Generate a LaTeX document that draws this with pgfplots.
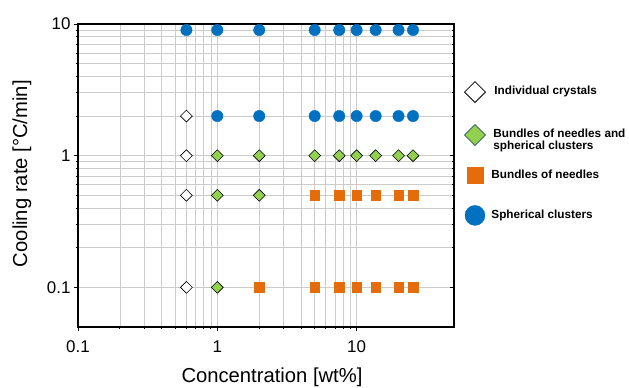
\documentclass[border=0pt]{standalone}
\usepackage{fontspec}
\setmainfont{Liberation Sans}
\usepackage{pgfplots}
\pgfplotsset{compat=1.18}
\definecolor{cblue}{HTML}{0070C0}
\definecolor{corange}{HTML}{E46C0A}
\definecolor{cgreen}{HTML}{92D050}
\definecolor{gridgray}{HTML}{CCCCCC}
\begin{document}
\begin{tikzpicture}
\path[use as bounding box] (-78bp,-61bp) rectangle (551bp,327bp);
\begin{axis}[
  at={(0,0)}, anchor=south west,
  scale only axis, width=376bp, height=303bp,
  xmode=log, ymode=log,
  xmin=0.1, xmax=50, ymin=0.05, ymax=10,
  xtick={0.1,1,10}, xticklabels={0.1,1,10},
  ytick={0.1,1,10}, yticklabels={0.1,1,10},
  xtick pos=bottom, ytick pos=left,
  tick align=outside,
  major tick length=4bp, minor tick length=2.5bp,
  every tick/.style={black, line width=0.9bp},
  axis line style={line width=1.2bp},
  grid=both,
  major grid style={gridgray, line width=0.8bp},
  minor grid style={gridgray, line width=0.8bp},
  /pgf/number format/assume math mode=true,
  tick label style={font=\fontsize{17}{17}\selectfont},
  xticklabel style={yshift=-6bp},
  label style={font=\fontsize{20.3}{20}\selectfont},
  xlabel={Concentration [wt\%]},
  ylabel={Cooling rate [°C/min]},
  xlabel style={at={(axis description cs:0.516,-0.165)}, anchor=center},
  ylabel style={at={(axis description cs:-0.149,0.506)}, anchor=center, rotate=0},
  legend style={draw=none, fill=none, at={(rel axis cs:1.028,0.810)}, anchor=north west,
    inner sep=0pt, outer sep=0pt, row sep=22bp,
    font=\bfseries\fontsize{11.8}{14}\selectfont,
    nodes={inner sep=0pt}},
  legend cell align=left,
  legend image code/.code={\draw[#1] plot coordinates {(0bp,0bp)};},
]
% Spherical clusters
\addplot[only marks, mark=*, mark size=5.7bp, mark options={draw=cblue, fill=cblue}, forget plot]
 coordinates {(0.6,9)(1,9)(2,9)(5,9)(7.5,9)(10,9)(13.7,9)(20,9)(25.4,9)
 (1,2)(2,2)(5,2)(7.5,2)(10,2)(13.7,2)(20,2)(25.4,2)};
% Bundles of needles
\addplot[only marks, mark=square*, mark size=4.7bp, mark options={draw=corange, fill=corange}, forget plot]
 coordinates {(5,0.5)(7.5,0.5)(10,0.5)(13.7,0.5)(20,0.5)(25.4,0.5)
 (2,0.1)(5,0.1)(7.5,0.1)(10,0.1)(13.7,0.1)(20,0.1)(25.4,0.1)};
% Bundles of needles and spherical clusters
\addplot[only marks, mark=square*, mark size=4.2bp, mark options={draw=black, fill=cgreen, rotate=45, line width=0.6bp}, forget plot]
 coordinates {(1,1)(2,1)(5,1)(7.5,1)(10,1)(13.7,1)(20,1)(25.4,1)
 (1,0.5)(2,0.5)(1,0.1)};
% Individual crystals
\addplot[only marks, mark=square*, mark size=4.2bp, mark options={draw=black, fill=white, rotate=45, line width=0.6bp}, forget plot]
 coordinates {(0.6,2)(0.6,1)(0.6,0.5)(0.6,0.1)};
\addlegendimage{only marks, mark=square*, mark size=7.4bp, mark options={draw=black, fill=white, rotate=45, line width=0.8bp}}
\addlegendentry{\hspace{9bp}\raisebox{-0.3em}[0pt][0pt]{Individual crystals}}
\addlegendimage{only marks, mark=square*, mark size=7.4bp, mark options={draw=black!60!cblue, fill=cgreen, rotate=45, line width=0.6bp}}
\addlegendentry{\hspace{8bp}\raisebox{-0.3em}[0pt][0pt]{\begin{tabular}[t]{@{}l@{}}Bundles of needles and\\[-2bp]spherical clusters\end{tabular}}}
\addlegendimage{only marks, mark=square*, mark size=8bp, mark options={draw=corange, fill=corange}}
\addlegendentry{\hspace{6bp}\raisebox{-0.3em}[0pt][0pt]{Bundles of needles}}
\addlegendimage{only marks, mark=*, mark size=10bp, mark options={draw=cblue, fill=cblue}}
\addlegendentry{\hspace{6bp}\raisebox{-0.3em}[0pt][0pt]{Spherical clusters}}
\end{axis}
\begin{axis}[
  at={(0,0)}, anchor=south west,
  scale only axis, width=376bp, height=303bp,
  xmode=log, ymode=log,
  xmin=0.1, xmax=50, ymin=0.05, ymax=10,
  axis x line=none, axis y line*=right,
  ytick={0.1,1,10}, yticklabels={},
  tick align=inside,
  major tick length=4bp, minor tick length=2.5bp,
  every tick/.style={black, line width=0.9bp},
  axis line style={line width=1.2bp, -},
]
\end{axis}
\end{tikzpicture}
\end{document}
